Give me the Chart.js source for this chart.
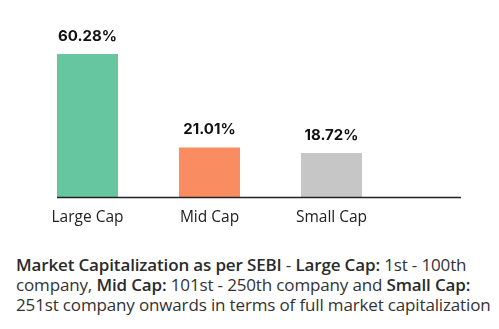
<!DOCTYPE html>
<html>
<head>
<meta charset="utf-8">
<script src="https://cdn.jsdelivr.net/npm/chart.js@4"></script>
<style>
    body { margin: 0; background: #fff; }
    .wrap { position: relative; width: 499px; height: 329px; }
    .chart-box { position: absolute; left: 0; top: 0; width: 499px; height: 240px; }
    .note {
        position: absolute; left: 16px; top: 255px; width: 483px;
        font-family: "Open Sans", sans-serif; font-size: 17px; line-height: 20px;
        color: #333; letter-spacing: -0.15px; white-space: nowrap;
    }
    .note b { font-weight: 600; color: #2b2b2b; }
</style>
</head>
<body>
<div class="wrap">
    <div class="chart-box"><canvas id="capChart"></canvas></div>
    <div class="note">
        <b>Market Capitalization as per SEBI</b> - <b>Large Cap:</b> 1st - 100th<br>
        company, <b>Mid Cap:</b> 101st - 250th company and <b>Small Cap:</b><br>
        251st company onwards in terms of full market capitalization
    </div>
</div>
<script>
const categories = ['Large Cap', 'Mid Cap', 'Small Cap'];
const shares = [60.28, 21.01, 18.72];
const barColors = ['#66C6A0', '#FA8C62', '#C6C6C6'];

// value labels above each bar + the baseline under them
const barLabels = {
    id: 'barLabels',
    afterDatasetsDraw(chart) {
        const c = chart.ctx;
        const bars = chart.getDatasetMeta(0).data;
        c.save();
        c.font = 'bold 15px Inter, sans-serif';
        c.fillStyle = '#111';
        c.textAlign = 'center';
        c.textBaseline = 'alphabetic';
        bars.forEach((bar, i) => {
            c.fillText(shares[i].toFixed(2) + '%', bar.x, bar.y - 13);
        });
        const base = chart.scales.y.getPixelForValue(0);
        c.strokeStyle = '#222';
        c.lineWidth = 1.5;
        c.beginPath();
        c.moveTo(bars[0].x - bars[0].width / 2, base);
        c.lineTo(chart.width - 38, base);
        c.stroke();
        c.restore();
    }
};

const ctx = document.getElementById('capChart').getContext('2d');
const chart = new Chart(ctx, {
    type: 'bar',
    data: {
        labels: categories,
        datasets: [{
            data: shares,
            backgroundColor: barColors,
            barPercentage: 0.5,
            categoryPercentage: 1
        }]
    },
    options: {
        animation: false,
        maintainAspectRatio: false,
        layout: {
            padding: { left: 26.5, right: 106.5, top: 31, bottom: 10 }
        },
        plugins: {
            legend: { display: false },
            tooltip: { enabled: false }
        },
        scales: {
            y: {
                display: false,
                min: 0,
                max: 70
            },
            x: {
                grid: { display: false },
                border: { display: false },
                ticks: {
                    color: '#222',
                    padding: 3,
                    font: { family: '"Open Sans", sans-serif', size: 15.5 }
                }
            }
        }
    },
    plugins: [barLabels]
});
</script>
</body>
</html>
